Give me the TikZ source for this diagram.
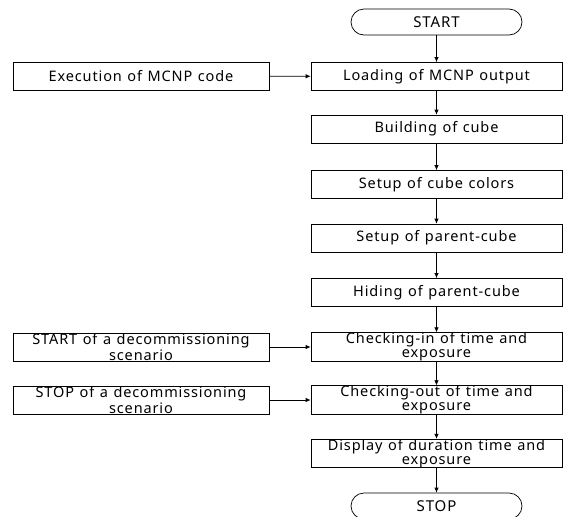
\documentclass[tikz,border=0pt]{standalone}
\usepackage{fontspec}
\setmainfont{Noto Sans}[LetterSpace=6, WordSpace=1.2]
\usetikzlibrary{arrows.meta}

\begin{document}
\begin{tikzpicture}[x=1pt, y=-1pt, line width=0.7pt,
    stepbox/.style={draw, minimum width=251pt, minimum height=28pt, inner sep=0pt,
      align=center, font=\fontsize{14.5}{14}\selectfont},
    inbox/.style={stepbox, minimum width=256pt},
    term/.style={draw, rounded corners=13pt, minimum width=171pt, minimum height=26pt,
      inner sep=0pt, font=\fontsize{15}{14}\selectfont},
    flow/.style={-{Latex[length=5pt, width=4.5pt]}}]
  \useasboundingbox (0,0) rectangle (563,517);
  % main column
  \node[term] (start) at (436.5,22) {START};
  \node[stepbox] (load) at (436.5,76.5) {Loading of MCNP output};
  \node[stepbox] (build) at (436.5,129) {Building of cube};
  \node[stepbox] (color) at (436.5,184.5) {Setup of cube colors};
  \node[stepbox] (parent) at (436.5,238) {Setup of parent-cube};
  \node[stepbox] (hide) at (436.5,292.5) {Hiding of parent-cube};
  \node[stepbox] (chkin) at (436.5,347) {Checking-in of time and\\exposure};
  \node[stepbox] (chkout) at (436.5,400) {Checking-out of time and\\exposure};
  \node[stepbox] (disp) at (436.5,453.5) {Display of duration time and\\exposure};
  \node[term] (stop) at (436.5,506) {STOP};
  % inputs on the left
  \node[inbox] (exec) at (141,76) {Execution of MCNP code};
  \node[inbox] (scstart) at (141,347) {START of a decommissioning\\scenario};
  \node[inbox] (scstop) at (141,400) {STOP of a decommissioning\\scenario};

  \foreach \a/\b in {start/load, load/build, build/color, color/parent,
      parent/hide, hide/chkin, chkin/chkout, chkout/disp, disp/stop}
    \draw[flow] (\a) -- (\b);
  \foreach \a/\b in {exec/load, scstart/chkin, scstop/chkout}
    \draw[flow] (\a) -- (\b);
\end{tikzpicture}
\end{document}
